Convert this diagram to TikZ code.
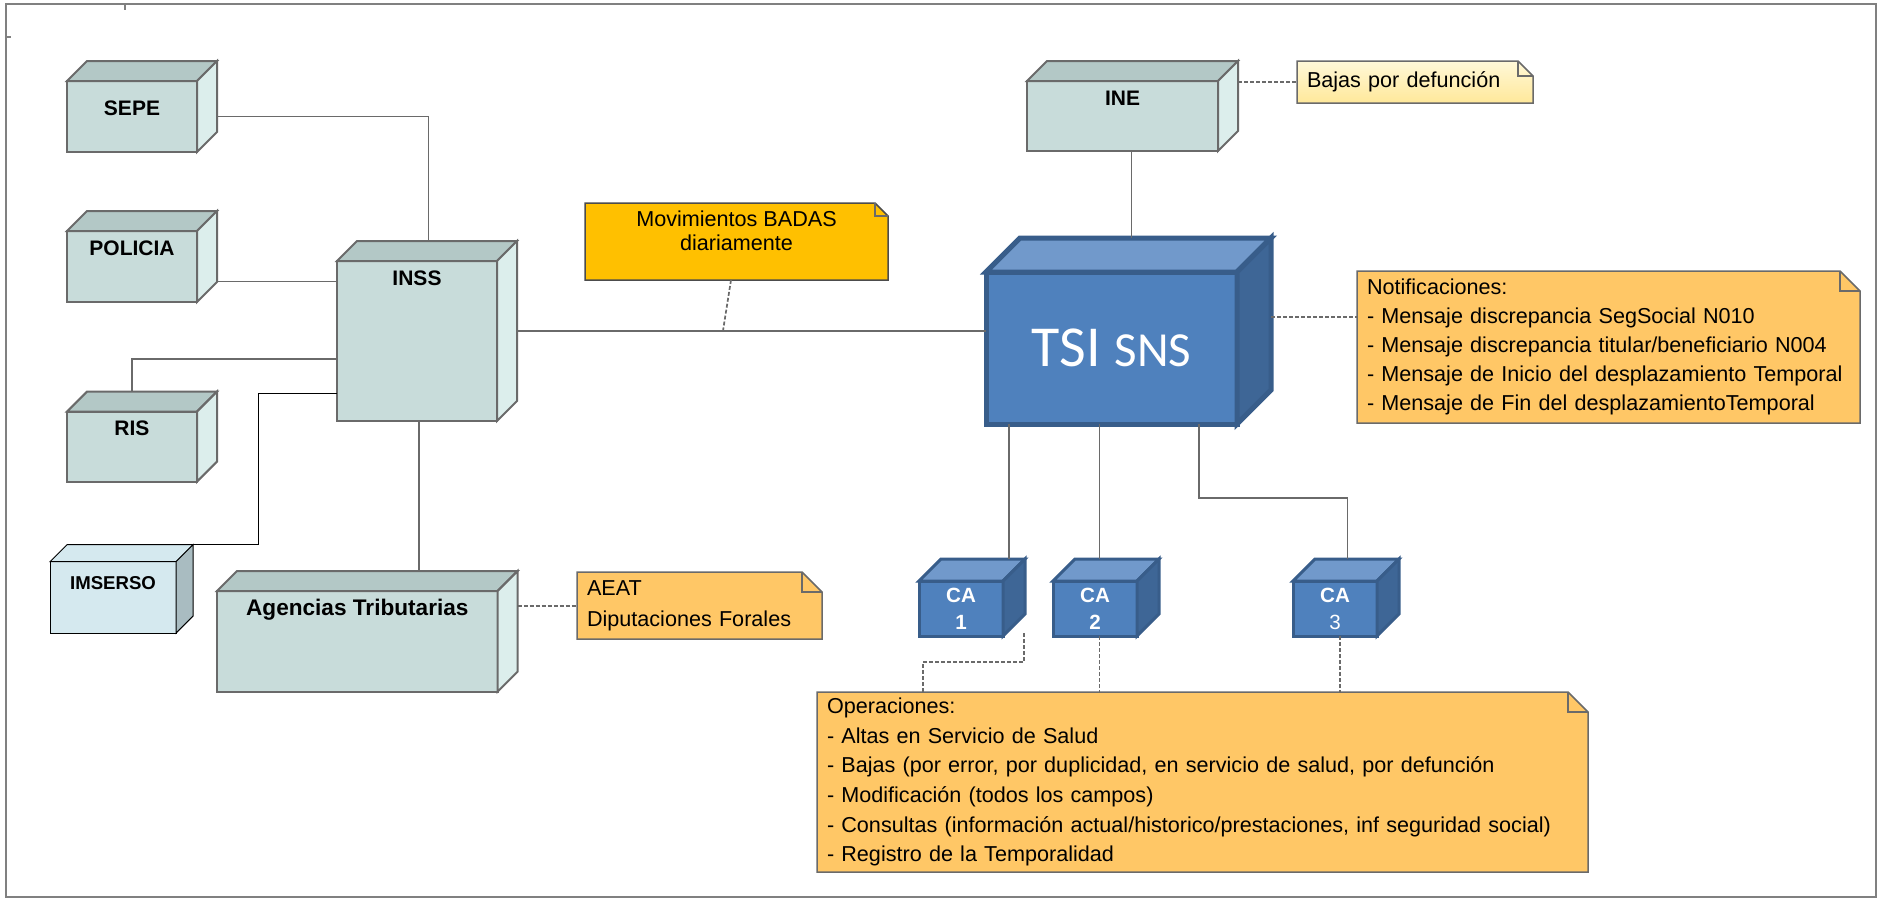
\documentclass[tikz,border=0pt]{standalone}
\usepackage{fontspec}
\setmainfont{Liberation Sans}
\newfontfamily\calibrifont{Carlito}
\usetikzlibrary{calc,backgrounds}

\definecolor{boxfront}{HTML}{C8DCDA}
\definecolor{boxtop}{HTML}{B3C8C6}
\definecolor{boxside}{HTML}{DCEEEC}
\definecolor{boxline}{HTML}{6A6A6A}
\definecolor{imsfront}{HTML}{D5E9EF}
\definecolor{imsside}{HTML}{A9BCC1}
\definecolor{tsifront}{HTML}{4F81BD}
\definecolor{tsitop}{HTML}{7199CB}
\definecolor{tsiside}{HTML}{3E6696}
\definecolor{tsiline}{HTML}{385D8A}
\definecolor{notefill}{HTML}{FFC766}
\definecolor{badasfill}{HTML}{FFC000}
\definecolor{bajastop}{HTML}{FFF8D8}
\definecolor{bajasbottom}{HTML}{FFE89A}
\definecolor{frameline}{HTML}{808080}

\tikzset{
  grayedge/.style={draw=boxline, line width=1pt},
  imsedge/.style={draw=black, line width=0.5pt},
  tsiedge/.style={draw=tsiline, line width=2.5pt},
  caedge/.style={draw=tsiline, line width=1.5pt},
  graybox/.style={grayedge, fill=boxfront, inner sep=0pt, outer sep=0pt},
  bluebox/.style={fill=tsifront, text=white, inner sep=0pt, outer sep=0pt, align=center},
  boxtitle/.style={anchor=center, yshift=-8.5pt, inner sep=0pt, font=\bfseries\fontsize{10.5}{12}\selectfont},
  notebox/.style={inner xsep=5pt, inner ysep=0pt, outer sep=0pt, align=left},
  plainnote/.style={draw=boxline, fill=notefill, line width=0.75pt},
  badasnote/.style={draw=black!70, fill=badasfill, line width=0.75pt},
  bajasnote/.style={draw=boxline, top color=bajastop, bottom color=bajasbottom, line width=0.75pt},
  notefold/.style={draw=boxline, line width=0.75pt},
  wire/.style={draw=boxline, line width=0.85pt},
  notelink/.style={wire, dash pattern=on 2pt off 1pt},
}

\begin{document}
\begin{tikzpicture}[x=0.5pt, y=-0.5pt]
	\useasboundingbox (0,0) rectangle (1881,902);
	% the gray servers
	\node[graybox, minimum width=65pt, minimum height=35.5pt, label={[boxtitle, yshift=-5pt]north:SEPE}] (sepe) at (132,116.5) {};
	\node[graybox, minimum width=65pt, minimum height=35.5pt, label={[boxtitle]north:POLICIA}] (policia) at (132,266.5) {};
	\node[graybox, minimum width=65pt, minimum height=35pt, label={[boxtitle]north:RIS}] (ris) at (132,446.6) {};
	\node[graybox, minimum width=80pt, minimum height=80pt, label={[boxtitle]north:INSS}] (inss) at (417,341) {};
	\node[graybox, minimum width=140.3pt, minimum height=50.3pt, label={[boxtitle, yshift=-0.7pt, font=\bfseries\fontsize{11.3}{13}\selectfont]north:Agencias Tributarias}] (agencias) at (357.3,641.3) {};
	\node[graybox, minimum width=95.5pt, minimum height=35pt, label={[boxtitle]north:INE}] (ine) at (1122.5,116) {};
	\node[imsedge, fill=imsfront, inner sep=0pt, outer sep=0pt, minimum width=63pt, minimum height=35.7pt, label={[boxtitle, yshift=-2pt, font=\bfseries\fontsize{9.3}{11}\selectfont]north:IMSERSO}] (imserso) at (113,597.4) {};
	% TSI and the CAs
	\node[bluebox, tsiedge, minimum width=125.5pt, minimum height=76pt, font=\calibrifont] (tsi) at (1111.5,348) {{\fontsize{29}{31}\selectfont TSI}\hspace{7pt}{\fontsize{24.5}{27}\selectfont SNS}};
	\node[bluebox, caedge, minimum width=42pt, minimum height=27.5pt, font=\bfseries\fontsize{10.3}{13.5}\selectfont] (ca1) at (961,608.5) {CA\\1};
	\node[bluebox, caedge, minimum width=42pt, minimum height=27.5pt, font=\bfseries\fontsize{10.3}{13.5}\selectfont] (ca2) at (1095,608.5) {CA\\2};
	\node[bluebox, caedge, minimum width=42pt, minimum height=27.5pt, font=\bfseries\fontsize{10.3}{13.5}\selectfont] (ca3) at (1335,608.5) {CA\\\mdseries 3};
	% top and side faces of the boxes
	\foreach \n/\dep/\bedge/\ftop/\fside in {sepe/20/grayedge/boxtop/boxside, policia/20/grayedge/boxtop/boxside,
			ris/20/grayedge/boxtop/boxside, inss/20/grayedge/boxtop/boxside, agencias/20/grayedge/boxtop/boxside,
			ine/20/grayedge/boxtop/boxside, imserso/17/imsedge/imsfront/imsside, tsi/34/tsiedge/tsitop/tsiside,
			ca1/22/caedge/tsitop/tsiside, ca2/22/caedge/tsitop/tsiside, ca3/22/caedge/tsitop/tsiside}{
		\filldraw[\bedge, fill=\ftop] (\n.north west) -- ++(\dep,-\dep) -- ($(\n.north east)+(\dep,-\dep)$) -- (\n.north east) -- cycle;
		\filldraw[\bedge, fill=\fside] (\n.north east) -- ++(\dep,-\dep) -- ($(\n.south east)+(\dep,-\dep)$) -- (\n.south east) -- cycle;
	}
	% the notes
	\node[notebox, align=center, minimum width=151.5pt, minimum height=38.5pt, text depth=10.5pt, font=\fontsize{10.8}{12}\selectfont] (movs) at (736.5,241.5) {Movimientos BADAS\\diariamente};
	\node[notebox, text width=108pt, minimum height=21pt, font=\fontsize{10.8}{13}\selectfont] (bajas) at (1415,82) {Bajas por defunción};
	\node[notebox, text width=241.5pt, minimum height=76pt, font=\fontsize{10.8}{14.6}\selectfont] (notif) at (1608.5,347) {Notificaciones:\\- Mensaje discrepancia SegSocial N010\\- Mensaje discrepancia titular/beneficiario N004\\- Mensaje de Inicio del desplazamiento Temporal\\- Mensaje de Fin del desplazamientoTemporal};
	\node[notebox, text width=112.5pt, minimum height=33.5pt, font=\fontsize{10.8}{15.5}\selectfont] (aeat) at (699.5,605.5) {AEAT\\Diputaciones Forales};
	\node[notebox, text width=375.5pt, minimum height=90pt, font=\fontsize{10.8}{14.8}\selectfont] (opnote) at (1202.5,782) {Operaciones:\\- Altas en Servicio de Salud\\- Bajas (por error, por duplicidad, en servicio de salud, por defunción\\- Modificación (todos los campos)\\- Consultas (información actual/historico/prestaciones, inf seguridad social)\\- Registro de la Temporalidad};
	\begin{scope}[on background layer]
		% frame
		\draw[frameline, line width=1pt] (6,4) rectangle (1876,897);
		\draw[frameline, line width=1pt] (125,4) -- (125,10) (6,37) -- (11,37);
		% note sheets with folded corner
		\foreach \n/\e/\f in {movs/13/badasnote, bajas/15/bajasnote, notif/20/plainnote, aeat/20/plainnote, opnote/20/plainnote}{
			\path[\f] (\n.south west) -- (\n.north west) -- ($(\n.north east)+(-\e,0)$) -- ($(\n.north east)+(0,\e)$) -- (\n.south east) -- cycle;
			\draw[notefold] ($(\n.north east)+(-\e,0)$) -- ++(0,\e) -- ++(\e,0);
		}
	\end{scope}
	% INSS and its neighbours
	\draw[wire] ([xshift=10pt]sepe.east) -| ([xshift=5.8pt, yshift=10pt]inss.north);
	\coordinate (policiaR) at ([xshift=10pt, yshift=-7.5pt]policia.east);
	\draw[wire] (policiaR) -- (policiaR -| inss.west);
	\draw[wire] ([yshift=-9pt]inss.west) -| ([yshift=10pt]ris.north);
	\draw[wire, draw=black, line width=0.5pt] ([yshift=-26pt]inss.west) -- ++(-79,0) |- ([xshift=8.5pt, yshift=8.5pt]imserso.north east);
	\coordinate (inssfoot) at ([xshift=1pt]inss.south);
	\coordinate (agtop) at ([yshift=10pt]agencias.north);
	\draw[wire] (inssfoot) -- (inssfoot |- agtop);
	\coordinate (inssR) at ([xshift=10pt, yshift=5pt]inss.east);
	\draw[wire] (inssR) -- (inssR -| tsi.west);
	% notes hooked on the lines
	\coordinate (badasfoot) at (723,330.7);
	\draw[notelink] ([xshift=-2.75pt]movs.south) -- (badasfoot);
	\coordinate (agR) at ([xshift=10pt, yshift=17.5pt]agencias.east);
	\draw[notelink] (agR) -- (agR -| aeat.west);
	% INE and TSI
	\coordinate (inefoot) at ([xshift=4.5pt]ine.south);
	\coordinate (tsiback) at ([yshift=17pt]tsi.north);
	\draw[wire] (inefoot) -- (inefoot |- tsiback);
	\coordinate (ineR) at ([xshift=10pt, yshift=17pt]ine.east);
	\draw[notelink] (ineR) -- (ineR -| bajas.west);
	\coordinate (tsiR) at ([xshift=17pt, yshift=15.5pt]tsi.east);
	\draw[notelink] (tsiR) -- (tsiR -| notif.west);
	% TSI down to the CAs
	\coordinate (ca1top) at ([xshift=24pt, yshift=11pt]ca1.north);
	\coordinate (ca2top) at ([xshift=2.25pt, yshift=11pt]ca2.north);
	\coordinate (ca3top) at ([xshift=6.3pt, yshift=11pt]ca3.north);
	\draw[wire] (ca1top |- tsi.south) -- (ca1top);
	\draw[wire] (ca2top |- tsi.south) -- (ca2top);
	\draw[wire] ([xshift=43.75pt]tsi.south) -- ++(0,74) -| (ca3top);
	% CAs down to the operations note
	\draw[notelink] ([xshift=10.5pt, yshift=1.5pt]ca1.south east) -- ++(0,29) -| ([xshift=-139.75pt]opnote.north);
	\draw[notelink] (ca2top |- ca2.south) -- (ca2top |- opnote.north);
	\coordinate (ca3foot) at ([xshift=2.35pt]ca3.south);
	\draw[notelink] (ca3foot) -- (ca3foot |- opnote.north);
\end{tikzpicture}
\end{document}
